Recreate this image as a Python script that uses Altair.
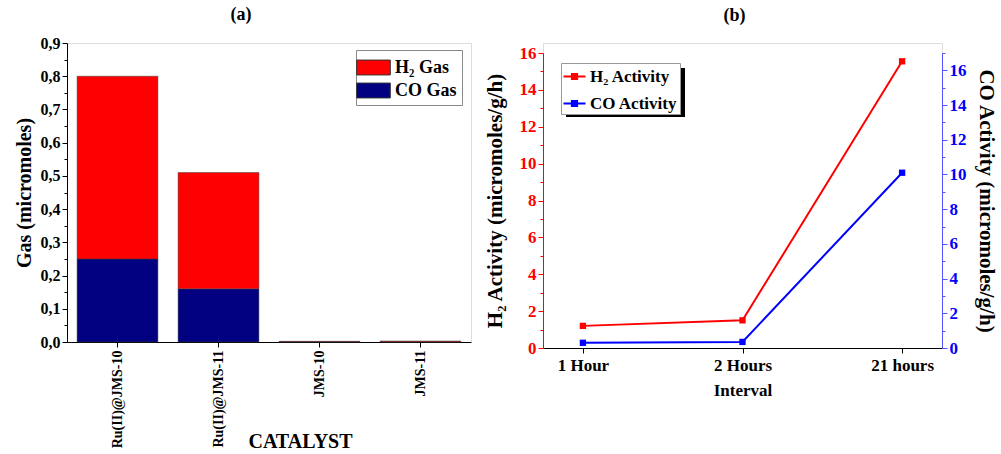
import altair as alt
import pandas as pd

# ---------------- data ----------------
catalysts = ["Ru(II)@JMS-10", "Ru(II)@JMS-11", "JMS-10", "JMS-11"]
co_gas = [0.25, 0.16, 0.001, 0.001]
h2_gas = [0.55, 0.35, 0.001, 0.002]
gas_names = ["H₂ Gas", "CO Gas"]

intervals = ["1 Hour", "2 Hours", "21 hours"]
h2_activity = [1.2, 1.5, 15.55]
co_activity = [0.3, 0.35, 10.1]
activity_names = ["H₂ Activity", "CO Activity"]

FONT = "Liberation Serif"

# ---------------- panel (a) ----------------
df_a = pd.DataFrame({
    "catalyst": catalysts * 2,
    "gas": ["CO Gas"] * 4 + ["H₂ Gas"] * 4,
    "value": co_gas + h2_gas,
    "ord": [0] * 4 + [1] * 4,
})

y_ticks_a = [round(i * 0.05, 2) for i in range(19)]

bars = alt.Chart(df_a).mark_bar(stroke="#3a3a3a", strokeWidth=0.5).encode(
    x=alt.X("catalyst:N", sort=catalysts,
            scale=alt.Scale(paddingInner=0.2, paddingOuter=0.1),
            axis=alt.Axis(title="CATALYST", labelAngle=270, labelFont=FONT,
                          labelFontSize=14, labelFontWeight="bold", labelColor="black",
                          titleFont=FONT, titleFontSize=20, titleFontWeight="bold",
                          titleColor="black", titleX=233, titleY=99,
                          titleAlign="center", titleBaseline="middle",
                          domainColor="black", tickColor="black", tickSize=5,
                          labelPadding=3)),
    y=alt.Y("value:Q", stack="zero",
            scale=alt.Scale(domain=[0, 0.9], nice=False),
            axis=alt.Axis(title="Gas (micromoles)", values=y_ticks_a,
                          labelExpr="round(datum.value*100) % 10 == 0 ? replace(format(datum.value, '.1f'), '.', ',') : ''",
                          tickSize={"condition": {"test": "round(datum.value*100) % 10 == 0", "value": 5}, "value": 3},
                          labelFont=FONT, labelFontSize=16, labelFontWeight="bold",
                          labelColor="black", titleFont=FONT, titleFontSize=20,
                          titleFontWeight="bold", titleColor="black",
                          domainColor="black", tickColor="black", grid=False,
                          titlePadding=6)),
    color=alt.Color("gas:N",
                    scale=alt.Scale(domain=gas_names, range=["#FF0000", "#000080"]),
                    legend=alt.Legend(title=None, orient="none", legendX=289, legendY=7,
                                      symbolType="M-1.4,-0.62H1.4V0.62H-1.4Z",
                                      symbolSize=576, symbolStrokeColor="#333",
                                      symbolStrokeWidth=1, labelFont=FONT,
                                      labelFontSize=18, labelFontWeight="bold",
                                      labelColor="black", labelOffset=9,
                                      rowPadding=1, padding=5,
                                      strokeColor="#888", fillColor="white")),
    order=alt.Order("ord:Q"),
).properties(
    width=404, height=299,
    title=alt.TitleParams("(a)", font=FONT, fontSize=18, fontWeight="bold",
                          color="black", dx=-28, offset=11),
)

# ---------------- panel (b) ----------------
df_b = pd.DataFrame({
    "interval": intervals * 2,
    "series": ["H₂ Activity"] * 3 + ["CO Activity"] * 3,
    "value": h2_activity + co_activity,
})

x_b = alt.X("interval:N", sort=intervals, scale=alt.Scale(padding=0.25),
            axis=alt.Axis(title="Interval", labelAngle=0, labelFont=FONT,
                          labelFontSize=17, labelFontWeight="bold", labelColor="black",
                          titleFont=FONT, titleFontSize=17, titleFontWeight="bold",
                          titleColor="black", domainColor="black", tickColor="black",
                          tickSize=5, labelPadding=4, titlePadding=9))

color_b = alt.Color("series:N",
                    scale=alt.Scale(domain=activity_names, range=["#FF0000", "#0000FF"]),
                    legend=alt.Legend(title=None, orient="none", legendX=18, legendY=20,
                                      symbolType="M-1.1,0H1.1M-0.25,-0.25H0.25V0.25H-0.25Z",
                                      symbolSize=400, symbolStrokeWidth=2.2,
                                      labelFont=FONT, labelFontSize=17,
                                      labelFontWeight="bold", labelColor="black",
                                      labelOffset=4, rowPadding=7, padding=2,
                                      strokeColor="#999", fillColor="white"))

left_ticks = list(range(0, 17))
right_ticks = list(range(0, 18))

h2_line = alt.Chart(df_b).transform_filter(
    alt.datum.series == "H₂ Activity"
).mark_line(strokeWidth=2, point=alt.OverlayMarkDef(shape="square", size=40, filled=True)).encode(
    x=x_b,
    y=alt.Y("value:Q", scale=alt.Scale(domain=[0, 16], nice=False, range=[305, 10]),
            axis=alt.Axis(title="H₂ Activity (micromoles/g/h)", orient="left",
                          values=left_ticks,
                          labelExpr="datum.value % 2 == 0 ? datum.value : ''",
                          tickSize={"condition": {"test": "datum.value % 2 == 0", "value": 5}, "value": 3},
                          labelFont=FONT, labelFontSize=17, labelFontWeight="bold",
                          labelColor="#FF0000", domainColor="#FF0000", tickColor="#FF0000",
                          titleFont=FONT, titleFontSize=21, titleFontWeight="bold",
                          titleColor="black", grid=False, titlePadding=14)),
    color=color_b,
)

co_line = alt.Chart(df_b).transform_filter(
    alt.datum.series == "CO Activity"
).mark_line(strokeWidth=2, point=alt.OverlayMarkDef(shape="square", size=40, filled=True)).encode(
    x=x_b,
    y=alt.Y("value:Q", scale=alt.Scale(domain=[0, 17], nice=False, range=[305, 10]),
            axis=alt.Axis(title="CO Activity (micromoles/g/h)", orient="right",
                          values=right_ticks,
                          labelExpr="datum.value % 2 == 0 ? datum.value : ''",
                          tickSize={"condition": {"test": "datum.value % 2 == 0", "value": 5}, "value": 3},
                          labelFont=FONT, labelFontSize=17, labelFontWeight="bold",
                          labelColor="#0000FF", domainColor="#5555FF", tickColor="#5555FF",
                          titleFont=FONT, titleFontSize=21, titleFontWeight="bold",
                          titleColor="black", grid=False, titlePadding=9)),
    color=color_b,
)

shadow = alt.Chart(pd.DataFrame({"k": [0]})).mark_rect(color="black").encode(
    x=alt.value(23), x2=alt.value(142), y=alt.value(25), y2=alt.value(74)
)

panel_b = alt.layer(shadow, h2_line, co_line).resolve_scale(y="independent").properties(
    width=399, height=305,
    title=alt.TitleParams("(b)", font=FONT, fontSize=18, fontWeight="bold",
                          color="black", dx=-8, offset=18),
)

chart = alt.hconcat(bars, panel_b, spacing=11).resolve_scale(
    color="independent"
).resolve_legend(color="independent").configure_view(
    stroke=None
).configure(
    background="white", padding={"left": 13, "top": 5, "right": 0, "bottom": 0}
)

chart.save("out.html", embed_options={"renderer": "svg", "actions": False})
